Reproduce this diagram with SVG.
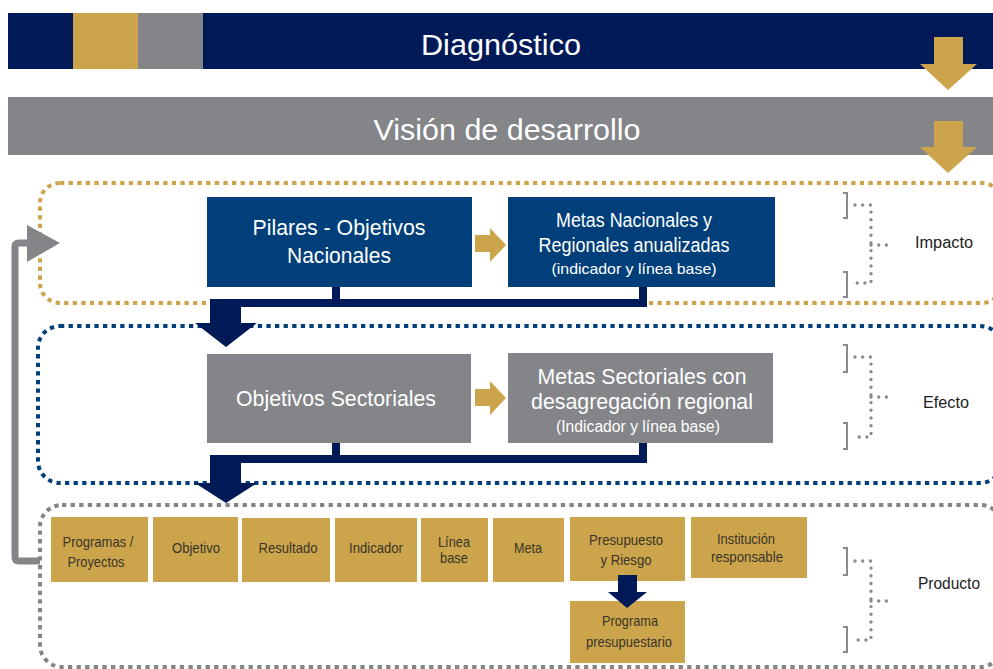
<svg xmlns="http://www.w3.org/2000/svg" width="993" height="669" viewBox="0 0 993 669">
<style>
text{font-family:"Liberation Sans Narrow","Liberation Sans",Arial,sans-serif;}
.w{fill:#ffffff;text-anchor:middle;}
.d{fill:#3a3528;text-anchor:middle;font-size:15px;}
.lab{fill:#222222;font-size:16px;}
.gold{fill:#cca44c;}
.navy{fill:#001a57;}
.br{fill:none;stroke:#8a8a8e;stroke-width:2;}
.dots{fill:none;stroke:#8a8a8e;stroke-width:3.4;stroke-linecap:round;stroke-dasharray:0 7.7;}
.frame{fill:none;stroke-width:4;stroke-dasharray:4.3 4.3;}
</style>
<rect x="0" y="0" width="993" height="669" fill="#ffffff"/>

<g id="diagnostico">
<rect x="8" y="13" width="985" height="56" fill="#001a57"/>
<rect x="73" y="13" width="65" height="56" fill="#cca44c"/>
<rect x="138" y="13" width="65" height="56" fill="#848589"/>
<text class="w" x="501" y="55" font-size="30" textLength="160" lengthAdjust="spacingAndGlyphs">Diagnóstico</text>
</g>

<g id="vision">
<rect x="8" y="97" width="985" height="58" fill="#848589"/>
<text class="w" x="507" y="140" font-size="30" textLength="267" lengthAdjust="spacingAndGlyphs">Visión de desarrollo</text>
</g>

<g id="frames">
<rect class="frame" x="40" y="183" width="962" height="120" rx="20" stroke="#cca44c"/>
<rect class="frame" x="38" y="326" width="964" height="157" rx="22" stroke="#003f7a"/>
<rect class="frame" x="40" y="505" width="962" height="162" rx="22" stroke="#848589"/>
</g>

<g id="pilares">
<rect x="207" y="197" width="265" height="90" fill="#003f7a"/>
<text class="w" x="339" y="235" font-size="22" textLength="173" lengthAdjust="spacingAndGlyphs">Pilares - Objetivos</text>
<text class="w" x="339" y="263" font-size="22" textLength="104" lengthAdjust="spacingAndGlyphs">Nacionales</text>
</g>

<g id="metas-nacionales">
<rect x="508" y="197" width="267" height="90" fill="#003f7a"/>
<text class="w" x="634" y="227" font-size="20" textLength="156" lengthAdjust="spacingAndGlyphs">Metas Nacionales y</text>
<text class="w" x="634" y="252" font-size="20" textLength="191" lengthAdjust="spacingAndGlyphs">Regionales anualizadas</text>
<text class="w" x="634" y="274" font-size="15" textLength="165" lengthAdjust="spacingAndGlyphs">(indicador y línea base)</text>
</g>

<g id="objetivos-sectoriales">
<rect x="207" y="354" width="264" height="89" fill="#848589"/>
<text class="w" x="336" y="406" font-size="22" textLength="200" lengthAdjust="spacingAndGlyphs">Objetivos Sectoriales</text>
</g>

<g id="metas-sectoriales">
<rect x="508" y="353" width="265" height="90" fill="#848589"/>
<text class="w" x="642" y="384" font-size="22" textLength="209" lengthAdjust="spacingAndGlyphs">Metas Sectoriales con</text>
<text class="w" x="642" y="409" font-size="22" textLength="222" lengthAdjust="spacingAndGlyphs">desagregación regional</text>
<text class="w" x="638" y="432" font-size="16" textLength="164" lengthAdjust="spacingAndGlyphs">(Indicador y línea base)</text>
</g>

<g id="programas">
<rect class="gold" x="51" y="517" width="97" height="65"/>
<text class="d" x="98" y="547" textLength="71" lengthAdjust="spacingAndGlyphs">Programas /</text>
<text class="d" x="96" y="567" textLength="57" lengthAdjust="spacingAndGlyphs">Proyectos</text>
</g>
<g id="objetivo">
<rect class="gold" x="153" y="517" width="85" height="65"/>
<text class="d" x="196" y="553" textLength="48" lengthAdjust="spacingAndGlyphs">Objetivo</text>
</g>
<g id="resultado">
<rect class="gold" x="242" y="518" width="88" height="64"/>
<text class="d" x="288" y="553" textLength="59" lengthAdjust="spacingAndGlyphs">Resultado</text>
</g>
<g id="indicador">
<rect class="gold" x="335" y="518" width="82" height="64"/>
<text class="d" x="376" y="553" textLength="54" lengthAdjust="spacingAndGlyphs">Indicador</text>
</g>
<g id="linea-base">
<rect class="gold" x="421" y="518" width="67" height="64"/>
<text class="d" x="454" y="547" textLength="32" lengthAdjust="spacingAndGlyphs">Línea</text>
<text class="d" x="454" y="563" textLength="28" lengthAdjust="spacingAndGlyphs">base</text>
</g>
<g id="meta">
<rect class="gold" x="493" y="518" width="71" height="64"/>
<text class="d" x="528" y="553" textLength="28" lengthAdjust="spacingAndGlyphs">Meta</text>
</g>
<g id="presupuesto">
<rect class="gold" x="570" y="517" width="115" height="64"/>
<text class="d" x="626" y="545" textLength="74" lengthAdjust="spacingAndGlyphs">Presupuesto</text>
<text class="d" x="626" y="565" textLength="51" lengthAdjust="spacingAndGlyphs">y Riesgo</text>
</g>
<g id="institucion">
<rect class="gold" x="691" y="517" width="116" height="61"/>
<text class="d" x="746" y="544" textLength="58" lengthAdjust="spacingAndGlyphs">Institución</text>
<text class="d" x="747" y="562" textLength="72" lengthAdjust="spacingAndGlyphs">responsable</text>
</g>
<g id="programa-presupuestario">
<rect class="gold" x="570" y="601" width="115" height="62"/>
<text class="d" x="630" y="626" textLength="56" lengthAdjust="spacingAndGlyphs">Programa</text>
<text class="d" x="629" y="647" textLength="86" lengthAdjust="spacingAndGlyphs">presupuestario</text>
</g>

<g id="impacto">
<path class="br" d="M843 193 H847 V218 H843"/>
<path class="br" d="M843 272 H847 V297 H843"/>
<path class="dots" d="M855 205 H871 V283 H855 M871 245 H892"/>
<text class="lab" x="915" y="248" textLength="58" lengthAdjust="spacingAndGlyphs">Impacto</text>
</g>
<g id="efecto">
<path class="br" d="M843 345 H847 V372 H843"/>
<path class="br" d="M843 423 H847 V449 H843"/>
<path class="dots" d="M855 357 H871 V437 H855 M871 397 H892"/>
<text class="lab" x="923" y="408" textLength="46" lengthAdjust="spacingAndGlyphs">Efecto</text>
</g>
<g id="producto">
<path class="br" d="M843 548 H847 V575 H843"/>
<path class="br" d="M843 627 H847 V652 H843"/>
<path class="dots" d="M855 561 H871 V640 H855 M871 601 H892"/>
<text class="lab" x="918" y="589" textLength="62" lengthAdjust="spacingAndGlyphs">Producto</text>
</g>

<g id="connectors">
<path class="gold" d="M934 37 H963 V64 H977 L948 90 L920 64 H934 Z"/>
<path class="gold" d="M934 121 H963 V147 H977 L948 173 L920 147 H934 Z"/>
<path class="gold" d="M475 235 H490 V228 L506 245 L490 262 V252 H475 Z"/>
<path class="gold" d="M475 389 H490 V381 L506 398 L490 415 V406 H475 Z"/>
<rect class="navy" x="332" y="287" width="8" height="13"/>
<rect class="navy" x="210" y="299" width="437" height="8"/>
<rect class="navy" x="639" y="287" width="8" height="20"/>
<path class="navy" d="M210 299 H241 V323 H257 L226 347 L195 323 H210 Z"/>
<rect class="navy" x="332" y="443" width="8" height="13"/>
<rect class="navy" x="210" y="455" width="437" height="8"/>
<rect class="navy" x="639" y="443" width="8" height="20"/>
<path class="navy" d="M210 455 H241 V483 H257 L226 503 L195 483 H210 Z"/>
<path class="navy" d="M618 575 H637 V592 H647 L627 608 L608 592 H618 Z"/>
<path d="M40 561 H19 Q15 561 15 557 V247 Q15 243 19 243 H32" fill="none" stroke="#848589" stroke-width="7"/>
<path d="M27 225 L60 243 L27 262 Z" fill="#848589"/>
</g>
</svg>
